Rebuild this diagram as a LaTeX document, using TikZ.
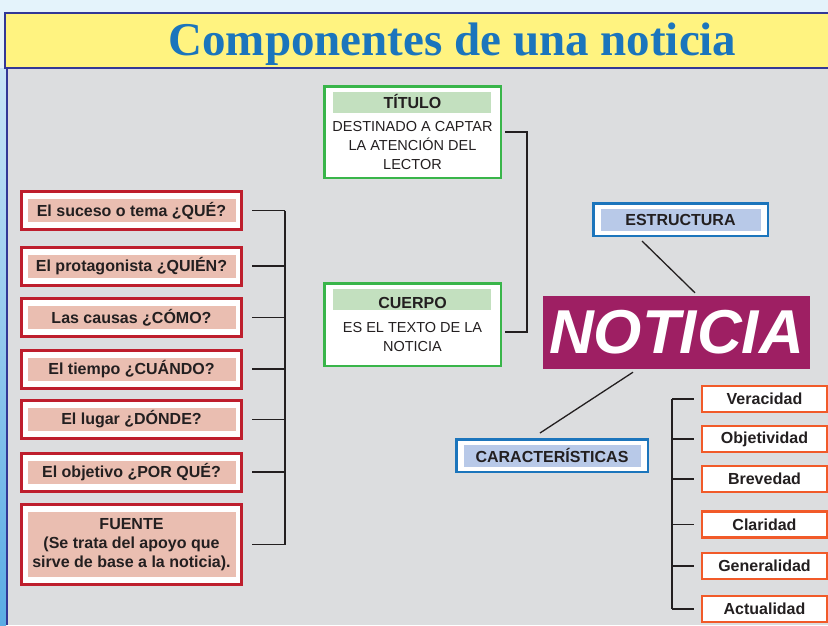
\documentclass[tikz,border=0pt]{standalone}
\usepackage{fontspec}
\setmainfont{Liberation Sans}
\newfontfamily\titlefont{Liberation Serif}
\definecolor{skyblue}{RGB}{228,243,251}
\definecolor{stripblue}{RGB}{90,172,228}
\definecolor{headyellow}{RGB}{255,243,128}
\definecolor{navy}{RGB}{50,56,150}
\definecolor{titleblue}{RGB}{27,117,188}
\definecolor{panelgray}{RGB}{220,221,223}
\definecolor{boxred}{RGB}{190,30,45}
\definecolor{boxpink}{RGB}{234,190,177}
\definecolor{boxgreen}{RGB}{57,181,74}
\definecolor{lightgreen}{RGB}{195,224,191}
\definecolor{boxblue}{RGB}{28,117,188}
\definecolor{lightblue}{RGB}{184,201,232}
\definecolor{noticiapurple}{RGB}{158,31,99}
\definecolor{boxorange}{RGB}{241,90,41}
\definecolor{inkgray}{RGB}{35,31,32}

\begin{document}
\begin{tikzpicture}[x=1pt,y=-1pt,
	link/.style={line width=1.3pt,color=inkgray},
	ask/.style={draw=boxred,line width=3pt,fill=white,minimum width=220pt,minimum height=38pt,inner sep=0pt,text=inkgray,align=center,font=\bfseries\fontsize{16}{19}\selectfont,
		path picture={\fill[boxpink] ([shift={(6.5,7.5)}]path picture bounding box.north west) rectangle ([shift={(-5.5,-7.5)}]path picture bounding box.south east);}},
	card/.style={draw=boxgreen,line width=2.5pt,fill=white,minimum width=176.5pt,inner sep=0pt,text=inkgray,align=center,font=\fontsize{14.5}{19}\selectfont,
		path picture={\fill[lightgreen] ([shift={(8.75,5.75)}]path picture bounding box.north west) rectangle ([shift={(-9.75,27)}]path picture bounding box.north east);}},
	tag/.style={draw=boxblue,line width=2.5pt,fill=white,minimum height=32.5pt,inner sep=0pt,text=inkgray,font=\bfseries\fontsize{16}{19}\selectfont,
		path picture={\fill[lightblue] ([shift={(7.75,5.75)}]path picture bounding box.north west) rectangle ([shift={(-7,-4.75)}]path picture bounding box.south east);}},
	trait/.style={draw=boxorange,line width=2.5pt,fill=white,minimum width=125pt,minimum height=26pt,inner sep=0pt,text=inkgray,font=\bfseries\fontsize{16}{19}\selectfont}]
	\useasboundingbox (0,0) rectangle (828,625);
	\fill[skyblue] (0,0) rectangle (828,625);
	\fill[panelgray] (7,68) rectangle (828,625);
	\shade[top color=skyblue!80!stripblue,bottom color=stripblue] (0,68) rectangle (6,625);
	\draw[navy,line width=2.5pt] (7,68) -- (7,625);
	\draw[navy,line width=2pt,fill=headyellow] (5,12.5) rectangle (832,68);
	\node[anchor=base,text=titleblue,font=\titlefont\bfseries\fontsize{47}{47}\selectfont] (title) at (452.5,55) {Componentes de una noticia};

	\node[ask] (que) at (131.5,210.5) {El suceso o tema ¿QUÉ?};
	\node[ask] (quien) at (131.5,266) {El protagonista ¿QUIÉN?};
	\node[ask] (como) at (131.5,317.5) {Las causas ¿CÓMO?};
	\node[ask] (cuando) at (131.5,369) {El tiempo ¿CUÁNDO?};
	\node[ask] (donde) at (131.5,419.5) {El lugar ¿DÓNDE?};
	\node[ask] (porque) at (131.5,472) {El objetivo ¿POR QUÉ?};
	\node[ask,minimum height=80pt] (fuente) at (131.5,544.5) {FUENTE\\(Se trata del apoyo que\\sirve de base a la noticia).};

	\coordinate (lbus) at (285,0);
	\draw[link] ([xshift=9pt]que.east) -- (que.east -| lbus);
	\draw[link] ([xshift=9pt]quien.east) -- (quien.east -| lbus);
	\draw[link] ([xshift=9pt]como.east) -- (como.east -| lbus);
	\draw[link] ([xshift=9pt]cuando.east) -- (cuando.east -| lbus);
	\draw[link] ([xshift=9pt]donde.east) -- (donde.east -| lbus);
	\draw[link] ([xshift=9pt]porque.east) -- (porque.east -| lbus);
	\draw[link] ([xshift=9pt]fuente.east) -- (fuente.east -| lbus);
	\draw[link] (que.east -| lbus) -- (fuente.east -| lbus);

	\node[card,minimum height=91.5pt] (titulo) at (412.5,132) {{\bfseries\fontsize{16}{19}\selectfont TÍTULO}\\[4.5pt]DESTINADO A CAPTAR\\LA ATENCIÓN DEL\\LECTOR};
	\node[card,minimum height=82.5pt] (cuerpo) at (412.5,324.5) {{\bfseries\fontsize{16}{19}\selectfont CUERPO}\\[4.5pt]ES EL TEXTO DE LA\\NOTICIA};
	\coordinate (gbus) at (527,0);
	\draw[link] ([xshift=3pt]titulo.east) -- (titulo.east -| gbus) -- ([yshift=-7.5pt]cuerpo.east -| gbus) -- ([xshift=3pt,yshift=-7.5pt]cuerpo.east);

	\node[fill=noticiapurple,minimum width=267pt,minimum height=73pt,inner sep=0pt,text=white,font=\bfseries\itshape\fontsize{62}{62}\selectfont] (noticia) at (676.5,332.5) {NOTICIA};
	\node[tag,minimum width=174.5pt] (estructura) at (680.5,219.5) {ESTRUCTURA};
	\node[tag,minimum width=191.5pt] (caract) at (552,455.5) {CARACTERÍSTICAS};
	\draw[link] ([xshift=-38.5pt,yshift=-4pt]estructura.south) -- ([xshift=18.5pt,yshift=3pt]noticia.north);
	\draw[link] ([xshift=-43.5pt,yshift=-3pt]noticia.south) -- ([xshift=-12pt,yshift=5pt]caract.north);

	\node[trait] (veracidad) at (764.5,399) {Veracidad};
	\node[trait] (objetividad) at (764.5,439) {Objetividad};
	\node[trait] (brevedad) at (764.5,479) {Brevedad};
	\node[trait] (claridad) at (764.5,524.5) {Claridad};
	\node[trait] (generalidad) at (764.5,566) {Generalidad};
	\node[trait] (actualidad) at (764.5,609) {Actualidad};
	\coordinate (obus) at (672,0);
	\draw[link] ([xshift=-7pt]veracidad.west) -- (veracidad.west -| obus);
	\draw[link] ([xshift=-7pt]objetividad.west) -- (objetividad.west -| obus);
	\draw[link] ([xshift=-7pt]brevedad.west) -- (brevedad.west -| obus);
	\draw[link] ([xshift=-7pt]claridad.west) -- (claridad.west -| obus);
	\draw[link] ([xshift=-7pt]generalidad.west) -- (generalidad.west -| obus);
	\draw[link] ([xshift=-7pt]actualidad.west) -- (actualidad.west -| obus);
	\draw[link] (veracidad.west -| obus) -- (actualidad.west -| obus);
\end{tikzpicture}
\end{document}
